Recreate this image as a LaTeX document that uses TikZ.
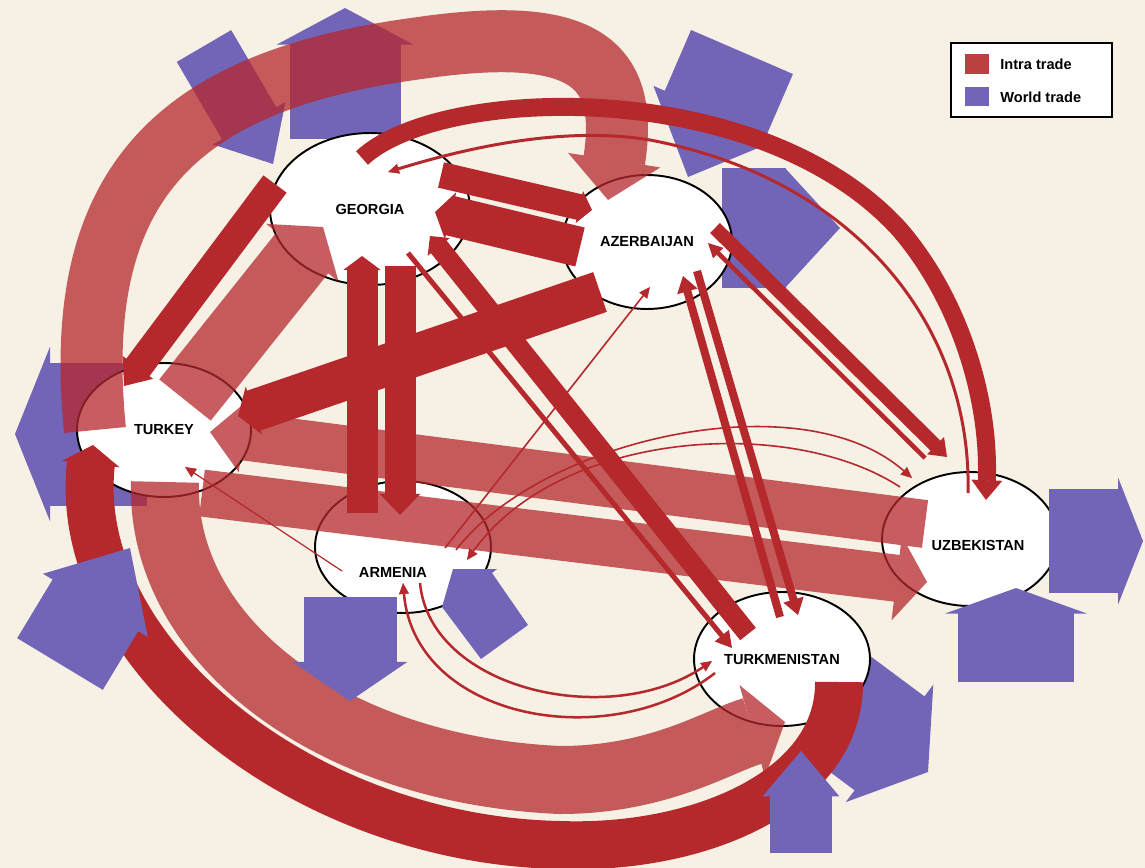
\documentclass[tikz,border=0pt]{standalone}
\usepackage{fontspec}
\setmainfont{Liberation Sans}
\usetikzlibrary{arrows.meta,shapes.geometric}
\definecolor{paper}{HTML}{F7F0E5}
\definecolor{intra}{HTML}{B5282C}
\definecolor{world}{HTML}{7265B8}
\definecolor{keyred}{HTML}{B94142}
\newcommand{\lblfont}{\bfseries\fontsize{8.3}{10}\selectfont}

\begin{document}
\begin{tikzpicture}[x=0.02cm, y=-0.02cm,
    country/.style={ellipse, draw=black, fill=white, line width=1.1pt, inner sep=0pt, font=\lblfont},
    intraflow/.style={draw=intra, line width=#1*0.02cm},
    worldflow/.style={draw=world, line width=#1*0.02cm},
    bighead/.style 2 args={-{Triangle[width=0pt #1, length=0pt #2, line width=1pt]}},
    fine/.style={draw=intra, line width=#1*0.02cm, -{Triangle[width=0.2cm, length=0.22cm, line width=0.3pt]}}]
    \fill[paper] (0,0) rectangle (1145,868);
    \useasboundingbox (0,0) rectangle (1145,868);

    % world trade, under the countries
    \draw[worldflow=63, bighead={1.33}{0.75}] (204,46) -- (273,164);
    \draw[worldflow=111, bighead={1.23}{0.33}] (345,139) -- (345,8);
    \draw[worldflow=111, bighead={1.22}{0.63}] (742,52) -- (688,177);
    \draw[worldflow=119, bighead={1.0}{0.46}] (722,228) -- (840,228);
    \draw[worldflow=143, bighead={1.22}{0.245}] (147,434) -- (15,434);
    \draw[worldflow=117, bighead={1.25}{0.41}] (834,702) -- (928,772);

    \node[country, minimum width=4cm, minimum height=3.04cm] (geo) at (370,209) {GEORGIA};
    \node[country, minimum width=3.4cm, minimum height=2.68cm] (aze) at (647,242) {AZERBAIJAN};
    \node[country, minimum width=3.48cm, minimum height=2.68cm] (tur) at (164,430) {TURKEY};
    \node[country, minimum width=3.52cm, minimum height=2.64cm,
        label={[font=\lblfont, shift={(-10,25)}]center:ARMENIA}] (arm) at (403,547) {};
    \node[country, minimum width=3.52cm, minimum height=2.68cm] (tkm) at (782,659) {TURKMENISTAN};
    \node[country, minimum width=3.52cm, minimum height=2.68cm,
        label={[font=\lblfont, shift={(8,6)}]center:UZBEKISTAN}] (uzb) at (970,539) {};

    % intra trade
    \draw[intraflow=29, bighead={1.3}{0.8}] ([shift={(-95,-25)}]geo.center) -- ([shift={(-40,-44)}]tur.center);
    \draw[intraflow=26, bighead={1.25}{0.5}] ([shift={(71,-34)}]geo.center) -- ([shift={(-55,-32)}]aze.center);
    \draw[intraflow=40, bighead={1.2}{0.4}] ([shift={(-67,5)}]aze.center) -- ([shift={(65,3)}]geo.center);
    \draw[intraflow=31, bighead={1.2}{0.45}] ([shift={(-41,-34)}]arm.center) -- ([shift={(-8,47)}]geo.center);
    \draw[intraflow=31, bighead={1.3}{0.68}] ([shift={(30,57)}]geo.center) -- ([shift={(-3,-32)}]arm.center);
    \draw[intraflow=42, bighead={1.2}{0.4}] ([shift={(-47,50)}]aze.center) -- ([shift={(74,-14)}]tur.center);
    \draw[intraflow=20, bighead={1.4}{0.7}] ([shift={(-34,-25)}]tkm.center) -- ([shift={(60,27)}]geo.center);
    \draw[intraflow=5, bighead={3.6}{3.2}] ([shift={(38,44)}]geo.center) -- ([shift={(-50,-11)}]tkm.center);
    \draw[intraflow=14, bighead={1.7}{1.15}] ([shift={(68,-14)}]aze.center) -- ([shift={(-23,-82)}]uzb.center);
    \draw[intraflow=4.5, bighead={3.2}{3.2}] ([shift={(-45,-81)}]uzb.center) -- ([shift={(61,1)}]aze.center);
    \draw[intraflow=8, bighead={2.6}{2}] ([shift={(-2,-42)}]tkm.center) -- ([shift={(36,34)}]aze.center);
    \draw[intraflow=8, bighead={2.6}{2}] ([shift={(50,29)}]aze.center) -- ([shift={(16,-44)}]tkm.center);
    \draw[intraflow=18, bighead={1.7}{1.1}] ([shift={(-8,-51)}]geo.center)
        .. controls (440,85) and (760,75) .. (900,230)
        .. controls (960,300) and (990,400) .. ([shift={(16,-39)}]uzb.center);
    \draw[fine=3] ([shift={(-2,-46)}]uzb.center)
        .. controls (972,330) and (860,180) .. (650,140)
        .. controls (560,125) and (460,150) .. ([shift={(18,-37)}]geo.center);
    \draw[intraflow=48, bighead={1.2}{0.4}] ([shift={(57,23)}]tkm.center)
        .. controls (840,790) and (700,850) .. (560,845)
        .. controls (300,840) and (70,650) .. ([shift={(-71,15)}]tur.center);
    \draw[fine=2.5] ([shift={(17,36)}]arm.center) .. controls +(10,107) and +(-102,69) .. ([shift={(-70,2)}]tkm.center);
    \draw[fine=2.5] ([shift={(-67,14)}]tkm.center) .. controls +(-105,82) and +(12,137) .. ([shift={(0,36)}]arm.center);
    \draw[fine=1.6] ([shift={(42,1)}]arm.center) -- ([shift={(3,45)}]aze.center);
    \draw[fine=1.2] ([shift={(-61,24)}]arm.center) -- ([shift={(21,37)}]tur.center);
    \draw[fine=1.6] ([shift={(53,3)}]arm.center) .. controls +(84,-110) and +(-112,-98) .. ([shift={(-58,-61)}]uzb.center);
    \draw[fine=1.6] ([shift={(-70,-52)}]uzb.center) .. controls +(-110,-72) and +(93,-130) .. ([shift={(64,13)}]arm.center);

    \begin{scope}[transparency group, opacity=0.75]
    \draw[intraflow=66, bighead={1.4}{0.5}] ([shift={(21,-30)}]tur.center) -- ([shift={(-47,18)}]geo.center);
    \draw[intraflow=48, bighead={1.5}{0.7}] ([shift={(-45,-15)}]uzb.center) -- ([shift={(46,2)}]tur.center);
    \draw[intraflow=47, bighead={1.8}{0.65}] ([shift={(38,63)}]tur.center) -- ([shift={(-43,43)}]uzb.center);
    \draw[intraflow=62, bighead={1.5}{0.65}] ([shift={(-69,0)}]tur.center)
        .. controls (70,180) and (180,80) .. (420,48)
        .. controls (580,25) and (630,60) .. ([shift={(-39,-42)}]aze.center);
    \draw[intraflow=68, bighead={1.4}{0.5}] ([shift={(1,52)}]tur.center)
        .. controls (160,640) and (330,770) .. (560,780)
        .. controls (660,780) and (720,740) .. ([shift={(3,63)}]tkm.center);
    \end{scope}

    % world trade, over the countries
    \draw[worldflow=100, bighead={1.22}{0.67}] (60,664) -- (130,548);
    \draw[worldflow=93, bighead={1.23}{0.42}] (350,597) -- (350,701);
    \fill[world] (453,569) -- (497,569) -- (492,573) -- (528,625) -- (481,659) -- (442,607) -- cycle;
    \draw[worldflow=104, bighead={1.22}{0.24}] (1049,541) -- (1143,541);
    \draw[worldflow=116, bighead={1.22}{0.22}] (1016,682) -- (1016,588);
    \draw[worldflow=62, bighead={1.23}{0.73}] (801,853) -- (801,751);

    \node[draw=black, fill=white, line width=0.9pt, minimum width=3.22cm, minimum height=1.48cm, inner sep=0pt] (key) at (1031.5,80) {};
    \node[fill=keyred, minimum width=0.48cm, minimum height=0.4cm, inner sep=0pt] (key-r) at (977,64) {};
    \node[fill=world, minimum width=0.48cm, minimum height=0.38cm, inner sep=0pt] (key-p) at (977,96.5) {};
    \node[anchor=west, font=\lblfont, inner sep=0pt] (key-intra) at (1000,64) {Intra trade};
    \node[anchor=west, font=\lblfont, inner sep=0pt] (key-world) at (1000,97) {World trade};
\end{tikzpicture}
\end{document}
